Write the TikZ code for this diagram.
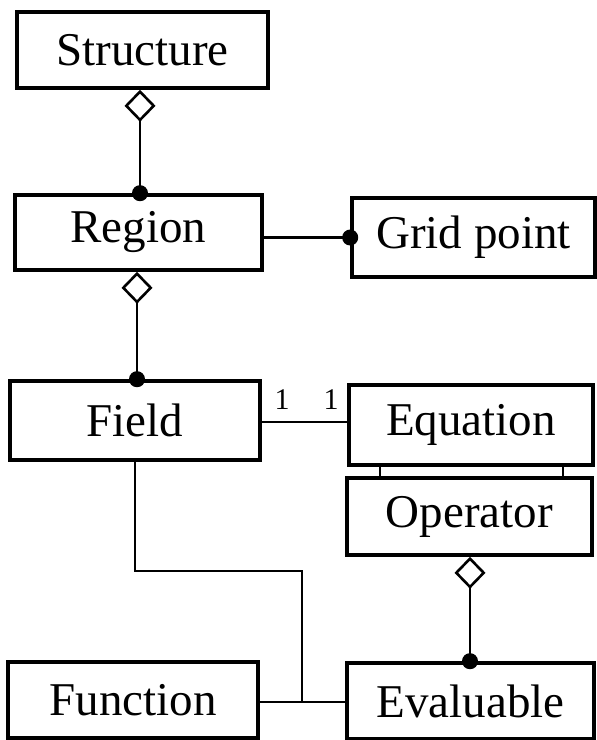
\documentclass[tikz,border=0pt]{standalone}
\usepackage{fontspec}
\setmainfont{Liberation Serif}
\usetikzlibrary{arrows.meta}
\begin{document}
\begin{tikzpicture}[x=1pt,y=-1pt,
  cls/.style={draw,line width=3.6pt,inner sep=0pt,font=\fontsize{47}{52}\selectfont},
  conn/.style={line width=2.8pt},
  agg/.style={conn,{Diamond[open,fill=white,length=32pt,width=31pt,line width=2.6pt]}-{Circle[length=16pt]},shorten >=-8pt},
  dotend/.style={conn,-{Circle[length=16pt]},shorten >=-8pt},
  mult/.style={font=\fontsize{30}{32}\selectfont,inner sep=0pt}]
\useasboundingbox (0,0) rectangle (597,740);
\node[cls,minimum width=251pt,minimum height=76pt] (S) at (142.5,50) {Structure};
\node[cls,minimum width=247pt,minimum height=75pt] (R) at (138.5,232.5) {Region};
\node[cls,minimum width=243pt,minimum height=79pt] (G) at (473.5,237.5) {Grid point};
\node[cls,minimum width=250pt,minimum height=79pt] (F) at (135,420.5) {Field};
\node[cls,minimum width=244pt,minimum height=80pt] (E) at (471,425) {Equation};
\node[cls,minimum width=245pt,minimum height=77pt] (O) at (469.5,516.5) {Operator};
\node[cls,minimum width=250pt,minimum height=76pt] (Fn) at (133,700) {Function};
\node[cls,minimum width=247pt,minimum height=76pt] (Ev) at (470.5,701) {Evaluable};
\coordinate (j) at (302,702);
\coordinate (bend) at (302,571);
% aggregations
\draw[agg] (S.south -| 140,0) -- (R.north -| 140,0);
\draw[agg] (R.south -| 137,0) -- (F.north -| 137,0);
\draw[agg] (O.south -| 470,0) -- (Ev.north -| 470,0);
% region - grid point
\draw[dotend] (R.east |- G.west) -- (G.west);
% field - equation
\draw[conn] (F.east |- 0,422) -- (E.west |- 0,422);
\node[mult] (m1) at (282,400) {1};
\node[mult] (m2) at (331,400) {1};
% equation - operator
\draw[conn] (E.south -| 380,0) -- (O.north -| 380,0);
\draw[conn] (E.south -| 563,0) -- (O.north -| 563,0);
% field / function - evaluable
\draw[conn] (F.south -| 135,0) |- (bend) -- (j) -- (Ev.west |- j);
\draw[conn] (Fn.east |- j) -- (j);
\end{tikzpicture}
\end{document}
